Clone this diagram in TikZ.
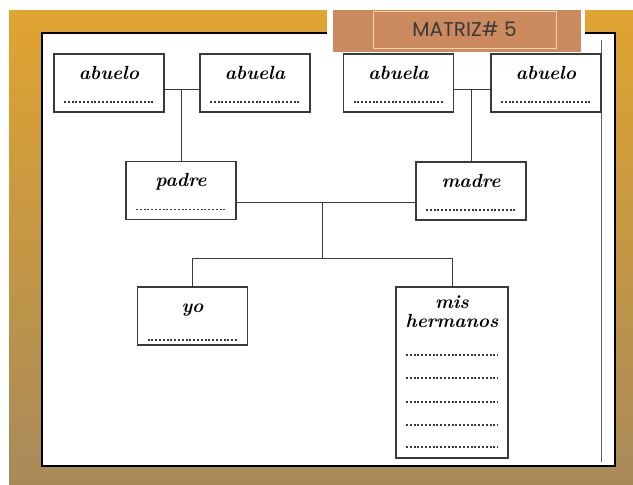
\documentclass[tikz,border=0pt]{standalone}
\usepackage{fontspec}
\newfontfamily\titlefont{Poppins}
\usetikzlibrary{calc}
\definecolor{slidegold}{HTML}{E0A430}
\definecolor{slidetan}{HTML}{A88A5A}
\definecolor{titlebrown}{HTML}{CB895E}
\definecolor{titlepeach}{HTML}{F6D2A8}
\definecolor{inkgray}{HTML}{3A3A3A}

\begin{document}
\begin{tikzpicture}[
    x=1pt,y=-1pt,
    dotrow/.style={inkgray,line width=1.5pt,dash pattern=on 2pt off 1.8pt},
    box/.style={draw=inkgray,line width=1.1pt,fill=white,
      minimum width=110pt,minimum height=58pt,inner sep=0pt,
      font=\fontsize{19}{16}\selectfont\bfseries\itshape,
      text height=12pt,text depth=20pt,align=center,
      path picture={\draw[dotrow]
        ($(path picture bounding box.south west)+(10pt,#1)$) --
        ($(path picture bounding box.south east)+(-10pt,#1)$);}},
    box/.default=10pt,
    listbox/.style={box,minimum width=112pt,minimum height=171pt,text depth=103pt,
      font=\fontsize{19}{19}\selectfont\bfseries\itshape,
      path picture={\foreach \h in {11,33,56,80,103}
        \draw[dotrow]
        ($(path picture bounding box.south west)+(10pt,\h pt)$) --
        ($(path picture bounding box.south east)+(-10pt,\h pt)$);}},
    link/.style={draw=inkgray,line width=1pt}
  ]
    % slide background and sheet
    \path[use as bounding box,fill=white] (0,0) rectangle (633,485);
    \shade[top color=slidegold,bottom color=slidetan] (9,10) rectangle (633,485);
    \draw[black,line width=1.4pt,fill=white] (42,33) rectangle (615,466);
    \draw[inkgray!80,line width=1pt] (601,40) -- (601,462);

    % title
    \fill[white] (327,0) rectangle (585,57);
    \fill[titlebrown] (333,10) rectangle (581,52);
    \node[draw=titlepeach,line width=1pt,minimum width=183pt,minimum height=37pt,
      font=\titlefont\fontsize{20}{22}\selectfont,text=inkgray] (title) at (464.5,29.5) {MATRIZ\# 5};

    % family tree
    \node[box] (abueloP) at (109,83) {abuelo};
    \node[box] (abuelaP) at (255,83) {abuela};
    \node[box] (abuelaM) at (398.5,83) {abuela};
    \node[box] (abueloM) at (546,83) {abuelo};
    \node[box] (padre) at (181,190.5) {padre};
    \node[box] (madre) at (471,191) {madre};
    \node[box=5pt] (yo) at (192.5,316) {yo};
    \node[listbox] (hermanos) at (452,372.5) {mis\\hermanos};

    \coordinate (lvlGP) at (0,89);
    \coordinate (mid) at (322,202);
    \coordinate (kids) at (322,258);

    \draw[link] (abueloP.east |- lvlGP) -- (abuelaP.west |- lvlGP);
    \draw[link] (padre.north |- lvlGP) -- (padre.north);
    \draw[link] (abuelaM.east |- lvlGP) -- (abueloM.west |- lvlGP);
    \draw[link] (madre.north |- lvlGP) -- (madre.north);
    \draw[link] (padre.east |- mid) -- (madre.west |- mid);
    \draw[link] (mid) -- (kids);
    \draw[link] (yo.north) -- (yo.north |- kids) -- (hermanos.north |- kids) -- (hermanos.north);
  \end{tikzpicture}
\end{document}
